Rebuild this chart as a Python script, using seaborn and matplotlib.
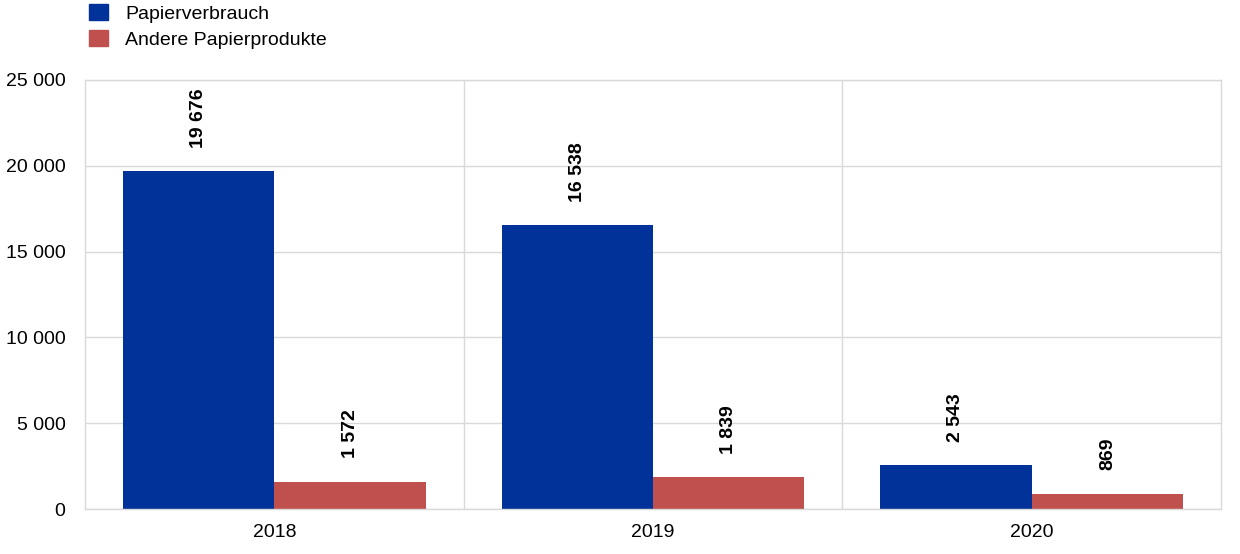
import numpy as np
import pandas as pd
import matplotlib
matplotlib.use("Agg")
import matplotlib.pyplot as plt
import seaborn as sns
from matplotlib.ticker import FuncFormatter, FixedLocator

years = ["2018", "2019", "2020"]
papierverbrauch = [19676, 16538, 2543]
andere = [1572, 1839, 869]
series_names = ["Papierverbrauch", "Andere Papierprodukte"]
colors = ["#003299", "#C0504D"]

df = pd.DataFrame({
    "Jahr": years * 2,
    "Wert": papierverbrauch + andere,
    "Serie": [series_names[0]] * 3 + [series_names[1]] * 3,
})

sns.set_style("white")
plt.rcParams["font.family"] = ["Liberation Sans", "DejaVu Sans"]
plt.rcParams["text.color"] = "black"
plt.rcParams["xtick.color"] = "black"
plt.rcParams["ytick.color"] = "black"

def fmt(v, pos=None):
    return f"{int(round(v)):,}".replace(",", " ")

fig = plt.figure(figsize=(12.4, 5.54), dpi=100)
ax = fig.add_axes([0.0685, 0.0812, 0.9162, 0.7744])

sns.barplot(data=df, x="Jahr", y="Wert", hue="Serie", palette=colors,
            width=0.8, saturation=1, linewidth=0, ax=ax, legend=False)

ax.set_ylim(0, 25000)
ax.set_xlim(-0.5, 2.5)
ax.set_yticks(np.arange(0, 25001, 5000))
ax.yaxis.set_major_formatter(FuncFormatter(fmt))
ax.xaxis.set_minor_locator(FixedLocator([0.5, 1.5]))
ax.grid(axis="y", color="#d9d9d9", linewidth=1)
ax.grid(axis="x", which="minor", color="#d9d9d9", linewidth=1)
ax.set_axisbelow(True)
ax.set_xlabel("")
ax.set_ylabel("")
ax.tick_params(axis="both", which="both", length=0, labelsize=14)
ax.tick_params(axis="x", pad=11)
ax.tick_params(axis="y", pad=14)
for s in ax.spines.values():
    s.set_color("#d9d9d9")
    s.set_linewidth(1)

for container in ax.containers:
    for bar in container:
        h = bar.get_height()
        ax.annotate(fmt(h), (bar.get_x() + bar.get_width() / 2, h),
                    xytext=(0, 17), textcoords="offset points",
                    rotation=90, ha="center", va="bottom",
                    fontsize=14, fontweight="bold", color="black")

handles = [plt.Rectangle((0, 0), 1, 1, color=c) for c in colors]
fig.legend(handles, series_names, loc="upper left", bbox_to_anchor=(0.058, 1.025),
           frameon=False, fontsize=14, handlelength=0.95, handleheight=0.95,
           handletextpad=0.9, labelspacing=0.35)

fig.savefig("out.png", dpi=100)
